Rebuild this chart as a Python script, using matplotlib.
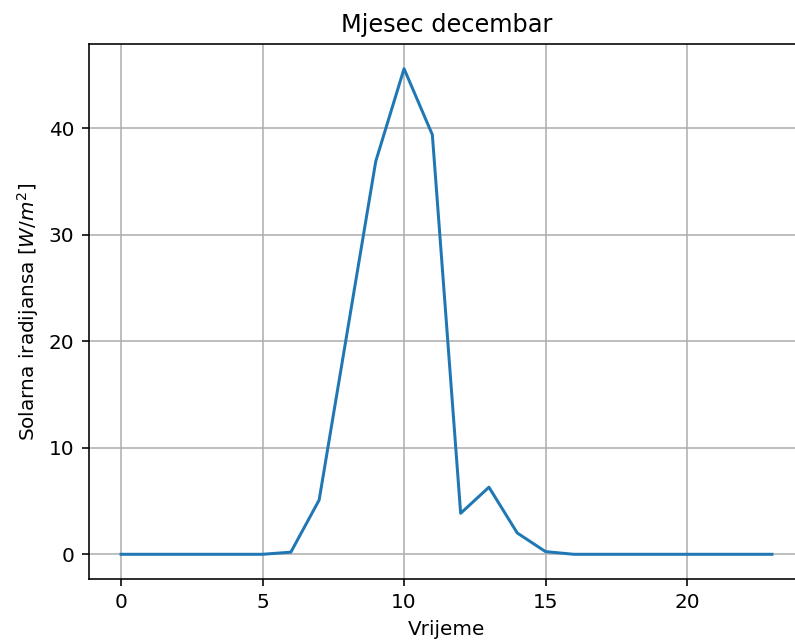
import matplotlib
matplotlib.use('Agg')
import matplotlib.pyplot as plt

# hourly solar irradiance, December
sati = list(range(24))
iradijansa = [0, 0, 0, 0, 0, 0, 0.2, 5.1, 21.0, 36.9, 45.6, 39.4,
              3.85, 6.3, 2.0, 0.25, 0, 0, 0, 0, 0, 0, 0, 0]

dpi = 144
fig = plt.figure(figsize=(795 / dpi, 642 / dpi), dpi=dpi)
# the original picture was cropped on the right, so the axes run past the edge
ax = fig.add_axes([88.5 / 795, 0.0988, 716 / 795, 0.832])

ax.plot(sati, iradijansa)
ax.set_title("Mjesec decembar")
ax.set_xlabel("Vrijeme")
ax.set_ylabel("Solarna iradijansa [$W/m^2$]")
ax.grid(True)

fig.savefig("out.png", dpi=dpi)
plt.close()
